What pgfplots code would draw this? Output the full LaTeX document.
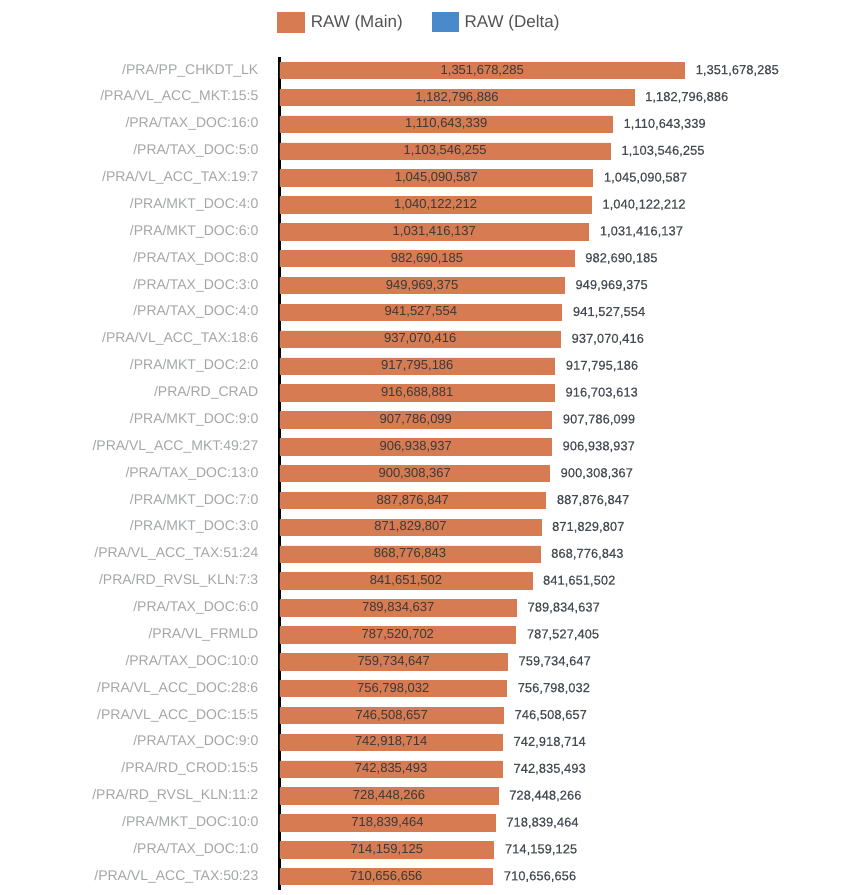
\documentclass[border=0pt]{standalone}
\usepackage{pgfplots}
\pgfplotsset{compat=1.18}
\usepackage{pgfplotstable}
\usepackage{fontspec}
\setmainfont{Liberation Sans}
\newfontfamily\outfont[FakeBold=0.4]{Liberation Sans}

\definecolor{mainc}{HTML}{D67B52}
\definecolor{deltac}{HTML}{4A89CA}
\definecolor{tickc}{HTML}{A3A5A9}
\definecolor{inlab}{HTML}{3A3A3A}
\definecolor{outlab}{HTML}{474B53}

% idx main delta total, labels as printed
\pgfplotstableread{
idx main delta total mlab tlab
0 1351678285 0 1351678285 1,351,678,285 1,351,678,285
1 1182796886 0 1182796886 1,182,796,886 1,182,796,886
2 1110643339 0 1110643339 1,110,643,339 1,110,643,339
3 1103546255 0 1103546255 1,103,546,255 1,103,546,255
4 1045090587 0 1045090587 1,045,090,587 1,045,090,587
5 1040122212 0 1040122212 1,040,122,212 1,040,122,212
6 1031416137 0 1031416137 1,031,416,137 1,031,416,137
7 982690185 0 982690185 982,690,185 982,690,185
8 949969375 0 949969375 949,969,375 949,969,375
9 941527554 0 941527554 941,527,554 941,527,554
10 937070416 0 937070416 937,070,416 937,070,416
11 917795186 0 917795186 917,795,186 917,795,186
12 916688881 14732 916703613 916,688,881 916,703,613
13 907786099 0 907786099 907,786,099 907,786,099
14 906938937 0 906938937 906,938,937 906,938,937
15 900308367 0 900308367 900,308,367 900,308,367
16 887876847 0 887876847 887,876,847 887,876,847
17 871829807 0 871829807 871,829,807 871,829,807
18 868776843 0 868776843 868,776,843 868,776,843
19 841651502 0 841651502 841,651,502 841,651,502
20 789834637 0 789834637 789,834,637 789,834,637
21 787520702 6703 787527405 787,520,702 787,527,405
22 759734647 0 759734647 759,734,647 759,734,647
23 756798032 0 756798032 756,798,032 756,798,032
24 746508657 0 746508657 746,508,657 746,508,657
25 742918714 0 742918714 742,918,714 742,918,714
26 742835493 0 742835493 742,835,493 742,835,493
27 728448266 0 728448266 728,448,266 728,448,266
28 718839464 0 718839464 718,839,464 718,839,464
29 714159125 0 714159125 714,159,125 714,159,125
30 710656656 0 710656656 710,656,656 710,656,656
}\rawdata

\begin{document}
\begin{tikzpicture}
\begin{axis}[
  name=ax,
  scale only axis,
  width=550pt, height=833pt,
  xmin=0, xmax=1.838e9,
  ymin=-0.5, ymax=30.5,
  y dir=reverse,
  axis x line=none,
  axis y line=left,
  y axis line style={line width=3pt, -},
  ytick={0,...,30},
  major tick length=0pt,
  yticklabels={/PRA/PP\_CHKDT\_LK,/PRA/VL\_ACC\_MKT:15:5,/PRA/TAX\_DOC:16:0,/PRA/TAX\_DOC:5:0,
    /PRA/VL\_ACC\_TAX:19:7,/PRA/MKT\_DOC:4:0,/PRA/MKT\_DOC:6:0,/PRA/TAX\_DOC:8:0,/PRA/TAX\_DOC:3:0,
    /PRA/TAX\_DOC:4:0,/PRA/VL\_ACC\_TAX:18:6,/PRA/MKT\_DOC:2:0,/PRA/RD\_CRAD,/PRA/MKT\_DOC:9:0,
    /PRA/VL\_ACC\_MKT:49:27,/PRA/TAX\_DOC:13:0,/PRA/MKT\_DOC:7:0,/PRA/MKT\_DOC:3:0,
    /PRA/VL\_ACC\_TAX:51:24,/PRA/RD\_RVSL\_KLN:7:3,/PRA/TAX\_DOC:6:0,/PRA/VL\_FRMLD,
    /PRA/TAX\_DOC:10:0,/PRA/VL\_ACC\_DOC:28:6,/PRA/VL\_ACC\_DOC:15:5,/PRA/TAX\_DOC:9:0,
    /PRA/RD\_CROD:15:5,/PRA/RD\_RVSL\_KLN:11:2,/PRA/MKT\_DOC:10:0,/PRA/TAX\_DOC:1:0,
    /PRA/VL\_ACC\_TAX:50:23},
  yticklabel style={font=\fontsize{14}{16}\selectfont, text=tickc, inner sep=0pt, xshift=-21.5pt},
  legend image code/.code={\fill[#1] (0pt,-10pt) rectangle (27pt,10pt);},
  legend columns=2,
  legend style={draw=none, fill=none, inner sep=0pt,
    at={(0,1)}, anchor=west, xshift=-3pt, yshift=35pt,
    font=\fontsize{17}{19}\selectfont, text=black!68,
    nodes={inner sep=0pt},
    /tikz/every odd column/.append style={column sep=6pt},
    /tikz/every even column/.append style={column sep=29pt}},
]
% total (main + delta) in blue, main drawn over it
\addplot[xbar, bar width=15.5pt, bar shift=0pt, fill=deltac, draw=none, forget plot,
  nodes near coords, point meta=explicit symbolic,
  every node near coord/.append style={font=\outfont\fontsize{13}{15}\selectfont, text=outlab,
    anchor=west, inner sep=0pt, xshift=11pt}]
  table[x=total, y=idx, meta=tlab] {\rawdata};
\addplot[xbar, bar width=16.4pt, bar shift=0pt, fill=mainc, draw=mainc, line width=0.6pt]
  table[x=main, y=idx] {\rawdata};
\addlegendentry{RAW (Main)}
\addlegendimage{fill=deltac, draw=none}
\addlegendentry{RAW (Delta)}
% inside labels, centred in each bar
\addplot[draw=none, mark=none, forget plot,
  nodes near coords, point meta=explicit symbolic,
  every node near coord/.append style={font=\fontsize{13}{15}\selectfont, text=inlab,
    anchor=center, inner sep=0pt}]
  table[x expr=\thisrow{main}/2, y=idx, meta=mlab] {\rawdata};
\end{axis}
\pgfresetboundingbox
\path (ax.south west) ++(-280pt,-5pt) rectangle ++(858pt,895pt);
\end{tikzpicture}
\end{document}
